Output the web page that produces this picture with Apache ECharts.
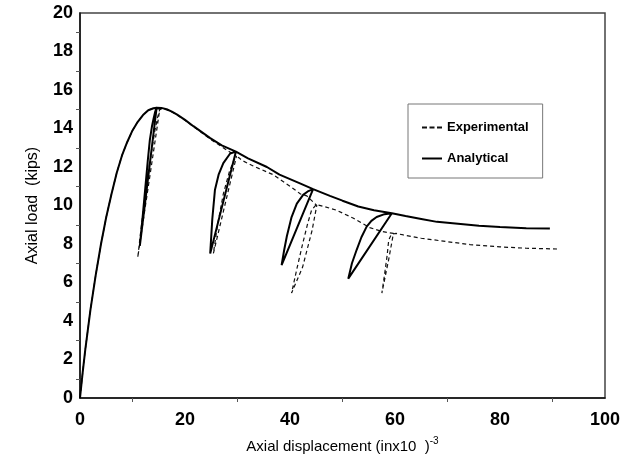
<!DOCTYPE html>
<html>
<head>
<meta charset="utf-8">
<script src="https://cdn.jsdelivr.net/npm/echarts@6/dist/echarts.min.js"></script>
<style>
html,body{margin:0;padding:0;background:#fff;}
#chart{width:633px;height:463px;}
</style>
</head>
<body>
<div id="chart"></div>
<script>
// Tick values
const xTicks = [0, 20, 40, 60, 80, 100];
const yTicks = [0, 2, 4, 6, 8, 10, 12, 14, 16, 18, 20];

// Analytical (solid) curve: [displacement, load]
const analyticalX = [0,0.5,1,2,3,4,5,6,7,8,9,10,11,12,13,14,14.6,
  11.4,12.0,12.4,12.9,13.3,13.7,14.0,14.3,14.6,
  15.5,16.5,17.5,18.5,20,21.6,23,24.8,27,29.7,
  24.8,25.2,25.7,26.4,27.3,28.6,29.7,
  32,35.6,38,41.9,44.4,
  38.4,38.9,39.4,40.3,41.3,42.5,43.5,44.4,
  47.6,50,53,56,59.4,
  51.1,51.8,52.7,53.6,54.6,55.5,56.5,58,59.4,
  62,65,68,72,76,80,85,89.5];
const analyticalY = [0,1.3,2.5,4.6,6.4,8.0,9.4,10.6,11.7,12.6,13.3,13.9,14.35,14.7,14.95,15.05,15.08,
  7.9,9.6,10.8,12.3,13.4,14.1,14.5,14.85,15.08,
  15.07,15.0,14.88,14.72,14.45,14.12,13.85,13.5,13.12,12.8,
  7.5,9.3,10.8,11.6,12.2,12.7,12.8,
  12.45,12.0,11.6,11.15,10.85,
  6.9,7.7,8.4,9.4,10.1,10.55,10.75,10.85,
  10.5,10.25,9.95,9.75,9.6,
  6.2,7.0,7.7,8.35,8.9,9.2,9.4,9.55,9.6,
  9.45,9.3,9.15,9.05,8.95,8.88,8.82,8.8];

// Experimental (dashed) curve
const experimentalX = [0,0.5,1,2,3,4,5,6,7,8,9,10,11,12,13,14,15.2,
  11.0,11.5,12.3,13.3,14.2,14.8,15.2,
  16.5,17.5,18.5,20,21.6,23,24.8,27,29.8,
  25.4,26.2,27.3,28.5,29.4,30.2,30.8,
  33,36.8,40,42,43.2,45.1,
  44.2,42.4,40.3,41.3,42.4,43.4,44.1,45.0,46.5,
  48.9,52,55.2,57.5,59.7,
  58.8,57.5,58.0,58.5,58.8,59.3,60.2,61.6,
  65,70,74.3,80,85,91];
const experimentalY = [0,1.3,2.5,4.6,6.4,8.0,9.4,10.6,11.7,12.6,13.3,13.9,14.35,14.7,14.95,15.05,15.0,
  7.3,8.5,10.3,12.2,13.8,14.6,15.0,
  14.98,14.86,14.7,14.43,14.1,13.82,13.45,13.05,12.55,
  7.5,9.0,10.6,11.8,12.4,12.5,12.35,
  12.05,11.6,11.0,10.6,10.5,10.0,
  8.7,6.8,5.45,6.7,8.0,9.1,9.75,10.05,9.95,
  9.75,9.35,8.85,8.65,8.55,
  7.2,5.45,6.4,7.4,8.2,8.5,8.55,8.47,
  8.3,8.12,7.97,7.85,7.78,7.74];

const pair = (xs, ys) => xs.map((x, i) => [x, ys[i]]);

const chart = echarts.init(document.getElementById('chart'));
const font = '"Liberation Sans", Arial, sans-serif';
chart.setOption({
  animation: false,
  backgroundColor: '#fff',
  textStyle: { fontFamily: font },
  grid: { left: 80, right: 28, top: 13, bottom: 65, show: true, borderColor: '#444', borderWidth: 1.5 },
  legend: {
    orient: 'vertical', left: 408, top: 104,
    padding: [17, 14, 13, 14], itemGap: 18, itemWidth: 20, itemHeight: 2,
    borderColor: '#777', borderWidth: 1,
    textStyle: { fontFamily: font, fontSize: 13, fontWeight: 'bold', color: '#000' },
    data: [
      { name: 'Experimental', icon: 'path://M0,0h5v2h-5zM7.5,0h5v2h-5zM15,0h5v2h-5z' },
      { name: 'Analytical', icon: 'path://M0,0h20v2h-20z' }
    ]
  },
  xAxis: {
    type: 'value', min: xTicks[0], max: xTicks[xTicks.length - 1], interval: 20,
    name: '{a|Axial displacement (inx10  )}{s|-3}', nameLocation: 'middle', nameGap: 38,
    nameTextStyle: { rich: { a: { fontFamily: font, fontSize: 15, color: '#000', lineHeight: 22 }, s: { fontFamily: font, fontSize: 10, color: '#000', verticalAlign: 'top', padding: [0, 0, 8, 0] } } },
    axisLine: { lineStyle: { color: '#111', width: 1.5 } },
    axisTick: { show: false },
    minorTick: { show: true, splitNumber: 2, length: 4, lineStyle: { color: '#555' } },
    axisLabel: { fontFamily: font, fontSize: 18, fontWeight: 'bold', color: '#000', margin: 13 },
    splitLine: { show: false }
  },
  yAxis: {
    type: 'value', min: yTicks[0], max: yTicks[yTicks.length - 1], interval: 2,
    name: 'Axial load  (kips)', nameLocation: 'middle', nameGap: 39,
    nameTextStyle: { fontFamily: font, fontSize: 16, color: '#000' },
    axisLine: { lineStyle: { color: '#111', width: 1.5 } },
    axisTick: { show: false },
    minorTick: { show: true, splitNumber: 2, length: 4, lineStyle: { color: '#555' } },
    axisLabel: { fontFamily: font, fontSize: 18, fontWeight: 'bold', color: '#000', margin: 7 },
    splitLine: { show: false }
  },
  series: [
    { name: 'Experimental', type: 'line', showSymbol: false, symbol: 'none', data: pair(experimentalX, experimentalY),
      lineStyle: { color: '#111', width: 1.2, type: [4, 3] }, itemStyle: { color: '#111' } },
    { name: 'Analytical', type: 'line', showSymbol: false, symbol: 'none', data: pair(analyticalX, analyticalY),
      lineStyle: { color: '#000', width: 2 }, itemStyle: { color: '#000' } }
  ]
});
</script>
</body>
</html>
